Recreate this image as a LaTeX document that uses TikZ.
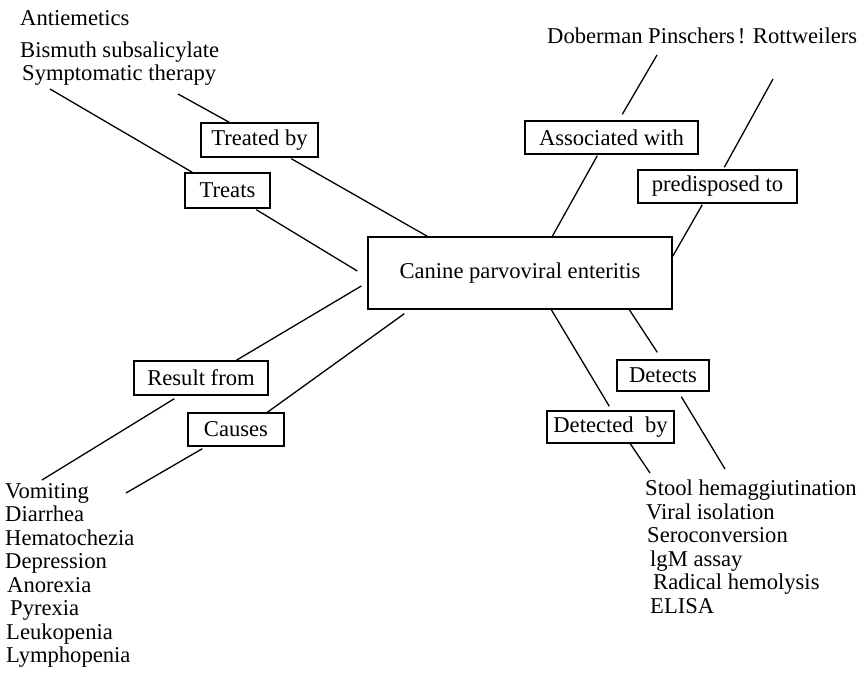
\documentclass[tikz,border=0pt]{standalone}
\usepackage{fontspec}
\setmainfont{Liberation Serif}
\usetikzlibrary{calc}
\begin{document}
\begin{tikzpicture}[x=1pt,y=-1pt,
  box/.style={draw, line width=1.4pt, inner sep=0pt, font=\fontsize{22.6}{26}\selectfont},
  lbl/.style={inner sep=0pt, font=\fontsize{22.6}{26}\selectfont},
  lst/.style={inner sep=0pt, anchor=north west, align=left, font=\fontsize{22.6}{23.5}\selectfont},
  link/.style={line width=1.3pt}]
\useasboundingbox (0,0) rectangle (863,673);

% central node
\node[box, minimum width=304pt, minimum height=72pt] (central) at (520,273) {Canine parvoviral enteritis};

% relation boxes
\node[box, minimum width=117pt, minimum height=34pt] (treatedby) at (259.5,140) {Treated by};
\node[box, minimum width=85pt, minimum height=35pt] (treats) at (227.5,190.5) {Treats};
\node[box, minimum width=173pt, minimum height=33pt] (assoc) at (611.5,137.5) {Associated with};
\node[box, minimum width=159pt, minimum height=33pt] (predis) at (717.5,186.5) {predisposed to};
\node[box, minimum width=134pt, minimum height=34pt] (result) at (201,378) {Result from};
\node[box, minimum width=96pt, minimum height=33pt] (causes) at (236,429.5) {Causes};
\node[box, minimum width=92pt, minimum height=31pt] (detects) at (663,375.5) {Detects};
\node[box, minimum width=127pt, minimum height=32pt] (detectedby) at (610.5,427) {Detected\ \ by};

% text nodes
\node[lbl, anchor=base west] (antiem) at (20,25.5) {Antiemetics};
\node[lbl, anchor=base west] (bismuth) at (20,57) {Bismuth subsalicylate};
\node[lbl, anchor=base west] (sympt) at (22,80) {Symptomatic therapy};
\node[lbl, anchor=base west] (breeds) at (547,43) {Doberman Pinschers\kern3pt! Rottweilers};
\node[lst] (symptoms) at (5,483) {Vomiting\\Diarrhea\\Hematochezia\\Depression\\\hspace*{2pt}Anorexia\\\hspace*{5pt}Pyrexia\\\hspace*{1pt}Leukopenia\\\hspace*{1pt}Lymphopenia};
\node[lst] (tests) at (645,480) {Stool hemaggiutination\\\hspace*{1pt}Viral isolation\\\hspace*{2pt}Seroconversion\\\hspace*{5pt}lgM assay\\\hspace*{8pt}Radical hemolysis\\\hspace*{5pt}ELISA};

% free ends
\coordinate (c1) at (50,89);
\coordinate (c2) at (178,94);
\coordinate (c7) at (42,480);
\coordinate (c8) at (126,493);
\coordinate (c9) at (657,55);
\coordinate (c11) at (773,79);
\coordinate (c15) at (725,469);
\coordinate (c16) at (650,473);

% connectors
\draw[link] (c1) -- ($(treats.north west)+(8,0)$);
\draw[link] (c2) -- ($(treatedby.north west)+(29,0)$);
\draw[link] ($(treatedby.south west)+(91,1)$) -- ($(central.north west)+(60,0)$);
\draw[link] ($(treats.south west)+(72,1)$) -- ($(central.west)+(-10,-2)$);
\draw[link] ($(central.west)+(-6,13)$) -- ($(result.north west)+(103,0)$);
\draw[link] ($(central.south west)+(37,4)$) -- ($(causes.north west)+(80,0)$);
\draw[link] ($(result.south west)+(41,3)$) -- (c7);
\draw[link] ($(causes.south west)+(15,2)$) -- (c8);
\draw[link] (c9) -- ($(assoc.north west)+(98,-6)$);
\draw[link] ($(assoc.south west)+(73,1)$) -- ($(central.north west)+(185,0)$);
\draw[link] (c11) -- ($(predis.north west)+(87,-2)$);
\draw[link] ($(predis.south west)+(65,1)$) -- ($(central.north east)+(0,20)$);
\draw[link] ($(central.south west)+(184,0)$) -- ($(detectedby.north west)+(63,-4)$);
\draw[link] ($(central.south west)+(262,0)$) -- ($(detects.north west)+(41,-7)$);
\draw[link] ($(detects.south west)+(65,5)$) -- (c15);
\draw[link] ($(detectedby.south west)+(84,0)$) -- (c16);
\end{tikzpicture}
\end{document}
